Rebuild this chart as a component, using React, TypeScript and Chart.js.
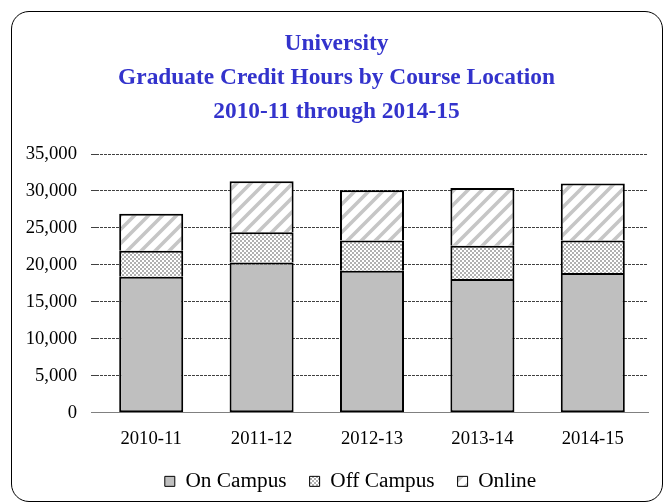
import React, { useEffect, useRef } from "react";
import { Chart, registerables } from "chart.js";

Chart.register(...registerables);

const categories = ["2010-11", "2011-12", "2012-13", "2013-14", "2014-15"];
const onCampus = [18400, 20300, 19200, 18100, 18900];
const offCampus = [3500, 4100, 4100, 4500, 4400];
const online = [5000, 6900, 6800, 7800, 7700];
const titleLines = [
  "University",
  "Graduate Credit Hours by Course Location",
  "2010-11 through 2014-15",
];
const seriesNames = ["On Campus", "Off Campus", "Online"];

function makeChecker(): CanvasPattern | string {
  const c = document.createElement("canvas");
  c.width = 4;
  c.height = 4;
  const g = c.getContext("2d");
  if (!g) return "#d0d0d0";
  g.fillStyle = "#ffffff";
  g.fillRect(0, 0, 4, 4);
  g.fillStyle = "#b0b0b0";
  g.fillRect(0, 0, 2, 2);
  g.fillRect(2, 2, 2, 2);
  const p = g.createPattern(c, "repeat");
  return p || "#d0d0d0";
}

function makeStripes(): CanvasPattern | string {
  const P = 14;
  const c = document.createElement("canvas");
  c.width = P;
  c.height = P;
  const g = c.getContext("2d");
  if (!g) return "#eeeeee";
  g.fillStyle = "#ffffff";
  g.fillRect(0, 0, P, P);
  g.strokeStyle = "#c6c6c6";
  g.lineWidth = 3.6;
  g.beginPath();
  g.moveTo(-2, 2);
  g.lineTo(2, -2);
  g.moveTo(0, P);
  g.lineTo(P, 0);
  g.moveTo(P - 2, P + 2);
  g.lineTo(P + 2, P - 2);
  g.stroke();
  const p = g.createPattern(c, "repeat");
  return p || "#eeeeee";
}

const legendShift = {
  id: "legendShift",
  afterLayout(chart: any) {
    const lg = chart.legend;
    if (lg) {
      lg.left += 14;
      lg.right += 14;
    }
  },
};

export default function App() {
  const ref = useRef<HTMLCanvasElement | null>(null);

  useEffect(() => {
    const canvas = ref.current;
    if (!canvas) return;
    const checker = makeChecker();
    const stripes = makeStripes();
    const serif = "'Liberation Serif', 'Times New Roman', serif";

    const chart = new Chart(canvas, {
      type: "bar",
      data: {
        labels: categories,
        datasets: [
          {
            label: seriesNames[0],
            data: onCampus,
            backgroundColor: "#bfbfbf",
            borderColor: "#000000",
            borderWidth: 2,
            borderSkipped: false,
          },
          {
            label: seriesNames[1],
            data: offCampus,
            backgroundColor: checker as any,
            borderColor: "#000000",
            borderWidth: 2,
            borderSkipped: "start",
          },
          {
            label: seriesNames[2],
            data: online,
            backgroundColor: stripes as any,
            borderColor: "#000000",
            borderWidth: 2,
            borderSkipped: "start",
          },
        ],
      },
      plugins: [legendShift],
      options: {
        responsive: false,
        animation: false,
        devicePixelRatio: 1,
        layout: { padding: { top: 11, left: 25, right: 18, bottom: 2 } },
        datasets: {
          bar: {
            barPercentage: 0.58,
            categoryPercentage: 1,
            inflateAmount: 0,
          },
        },
        scales: {
          x: {
            stacked: true,
            grid: { display: false, drawTicks: false },
            border: { display: true, color: "#808080", width: 1 },
            ticks: {
              color: "#000000",
              padding: 17,
              font: { family: serif, size: 18.67, lineHeight: 1 },
            },
            afterFit: (scale: any) => {
              scale.height -= 17.6;
            },
          },
          y: {
            stacked: true,
            min: 0,
            max: 35000,
            border: { display: false, dash: [3, 1] },
            grid: {
              color: (ctx: any) =>
                ctx.tick && ctx.tick.value === 0 ? "#808080" : "#404040",
              lineWidth: 1,
              drawTicks: true,
              tickLength: 5,
            },
            ticks: {
              stepSize: 5000,
              color: "#000000",
              padding: 14,
              font: { family: serif, size: 18.67 },
              callback: (v: any) => Number(v).toLocaleString("en-US"),
            },
            afterFit: (scale: any) => {
              scale.width = 71;
            },
          },
        },
        plugins: {
          title: {
            display: true,
            text: titleLines,
            color: "#3333cc",
            font: { family: serif, size: 23.4, weight: "bold", lineHeight: 34 / 23.4 },
            padding: { top: 16, bottom: 25 },
          },
          legend: {
            position: "bottom",
            labels: {
              color: "#000000",
              boxWidth: 10,
              boxHeight: 10,
              padding: 23,
              font: { family: serif, size: 21.3 },
              generateLabels: (ch: any) => {
                const items = Chart.defaults.plugins.legend.labels.generateLabels(ch);
                return items.map((it: any) => ({ ...it, lineWidth: 1 }));
              },
            },
          },
          tooltip: { enabled: false },
        },
      },
    });
    return () => chart.destroy();
  }, []);

  return (
    <div style={{ position: "fixed", left: 0, top: 0, width: 666, height: 504, background: "#ffffff" }}>
      <div
        style={{
          position: "absolute",
          left: 11,
          top: 11,
          width: 652,
          height: 491,
          border: "1px solid #000000",
          borderRadius: 18,
          boxSizing: "border-box",
        }}
      />
      <canvas ref={ref} width={666} height={504} style={{ position: "absolute", left: 0, top: 0, width: 666, height: 504 }} />
    </div>
  );
}
